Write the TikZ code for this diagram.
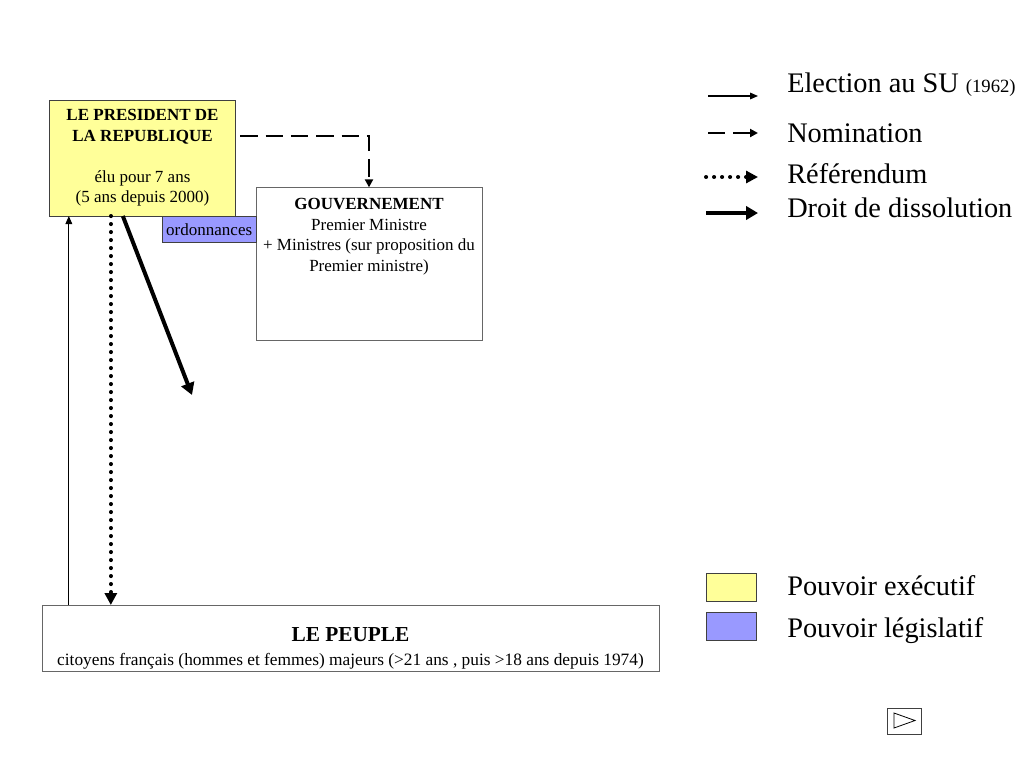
\documentclass[tikz,border=0pt]{standalone}
\usepackage{fontspec}
\setmainfont{Liberation Serif}
\usetikzlibrary{arrows.meta,positioning,calc}
\definecolor{presyellow}{HTML}{FFFF99}
\definecolor{legisblue}{HTML}{9999FF}

\begin{document}
\begin{tikzpicture}[x=0.75pt,y=-0.75pt,
  boxtext/.style={font=\fontsize{12.75}{15.4}\selectfont},
  pouvoir/.style={draw=black!75,line width=0.75pt,inner sep=0pt,outer sep=0pt},
  election/.style={line width=0.85pt,-{Triangle[length=6pt,width=5pt]}},
  nomination/.style={line width=1.6pt,dash pattern=on 13pt off 6pt,-{Triangle[length=6pt,width=6pt]}},
  referendum/.style={line width=3pt,line cap=round,dash pattern=on 0.1pt off 5.9pt,-{Triangle[length=9pt,width=9pt]}},
  dissolution/.style={line width=3pt,-{Triangle[length=9pt,width=10pt]}},
  legend/.style={anchor=base west,inner sep=0pt,font=\fontsize{21.25}{25}\selectfont}]
  \useasboundingbox (0,0) rectangle (1024,768);

  % boxes
  \node[pouvoir,fill=presyellow,minimum width=139pt,minimum height=87pt,boxtext,align=center]
    (pres) at (142.5,158) {\textbf{LE PRESIDENT DE}\\\textbf{LA REPUBLIQUE}\\[15.4pt]élu pour 7 ans\\(5 ans depuis 2000)};
  \node[pouvoir,draw=black!60,minimum width=169.5pt,minimum height=115pt] (gov) at (369,264) {};
  \node[boxtext,align=center,inner sep=0pt,below=8pt of gov.north]
    (govtext) {\textbf{GOUVERNEMENT}\\Premier Ministre\\+ Ministres (sur proposition du\\Premier ministre)};
  \node[pouvoir,fill=legisblue,minimum width=70.5pt,minimum height=19.5pt,boxtext] (ordo) at (209.2,229.7) {ordonnances};
  \node[pouvoir,draw=black!60,minimum width=462.75pt,minimum height=49.5pt] (peuple) at (350.5,638) {};
  \node[align=center,inner sep=0pt,font=\fontsize{13}{18}\selectfont,below=16.5pt of peuple.north]
    (peupletext) {{\fontsize{16}{18}\selectfont\bfseries LE PEUPLE}\\citoyens français (hommes et femmes) majeurs (>21 ans , puis >18 ans depuis 1974)};

  % connectors
  \draw[nomination] ($(pres.north east)+(5,36)$) -| (gov.north);
  \coordinate (dissend) at (192,395);
  \draw[dissolution] ($(pres.south west)+(73,0)$) -- (dissend);
  \coordinate (refer) at ($(pres.south west)+(61,0)$);
  \draw[referendum] (refer) -- (refer |- peuple.north);
  \coordinate (su) at ($(pres.south west)+(19,0)$);
  \draw[election] (su |- peuple.north) -- (su);

  % legend
  \node[legend] (lelec) at (787,92) {Election au SU {\fontsize{14}{16}\selectfont(1962)}};
  \node[legend] (lnomin) at (787,142) {Nomination};
  \node[legend] (lrefer) at (787,183) {Référendum};
  \node[legend] (ldiss) at (787,217) {Droit de dissolution};
  \foreach \sty/\x/\y in {election/708/96,nomination/708/133,referendum/706/177,dissolution/706/213}{
    \coordinate (\sty-a) at (\x,\y);
    \coordinate (\sty-b) at (758,\y);
    \draw[\sty] (\sty-a) -- (\sty-b);
  }
  \node[pouvoir,fill=presyellow,minimum width=37.5pt,minimum height=21pt] (sexec) at (731,587) {};
  \node[pouvoir,fill=legisblue,minimum width=37.5pt,minimum height=21pt] (slegis) at (731,626) {};
  \node[legend] (lexec) at (787,595) {Pouvoir exécutif};
  \node[legend] (llegis) at (787,637) {Pouvoir législatif};

  % next button
  \node[pouvoir,minimum width=25.5pt,minimum height=19.5pt] (nav) at (904,721) {};
  \draw[line width=0.6pt] ($(nav.center)+(-10,-8)$) -- ($(nav.center)+(-10,7)$) -- ($(nav.center)+(11,-0.5)$) -- cycle;
\end{tikzpicture}
\end{document}
